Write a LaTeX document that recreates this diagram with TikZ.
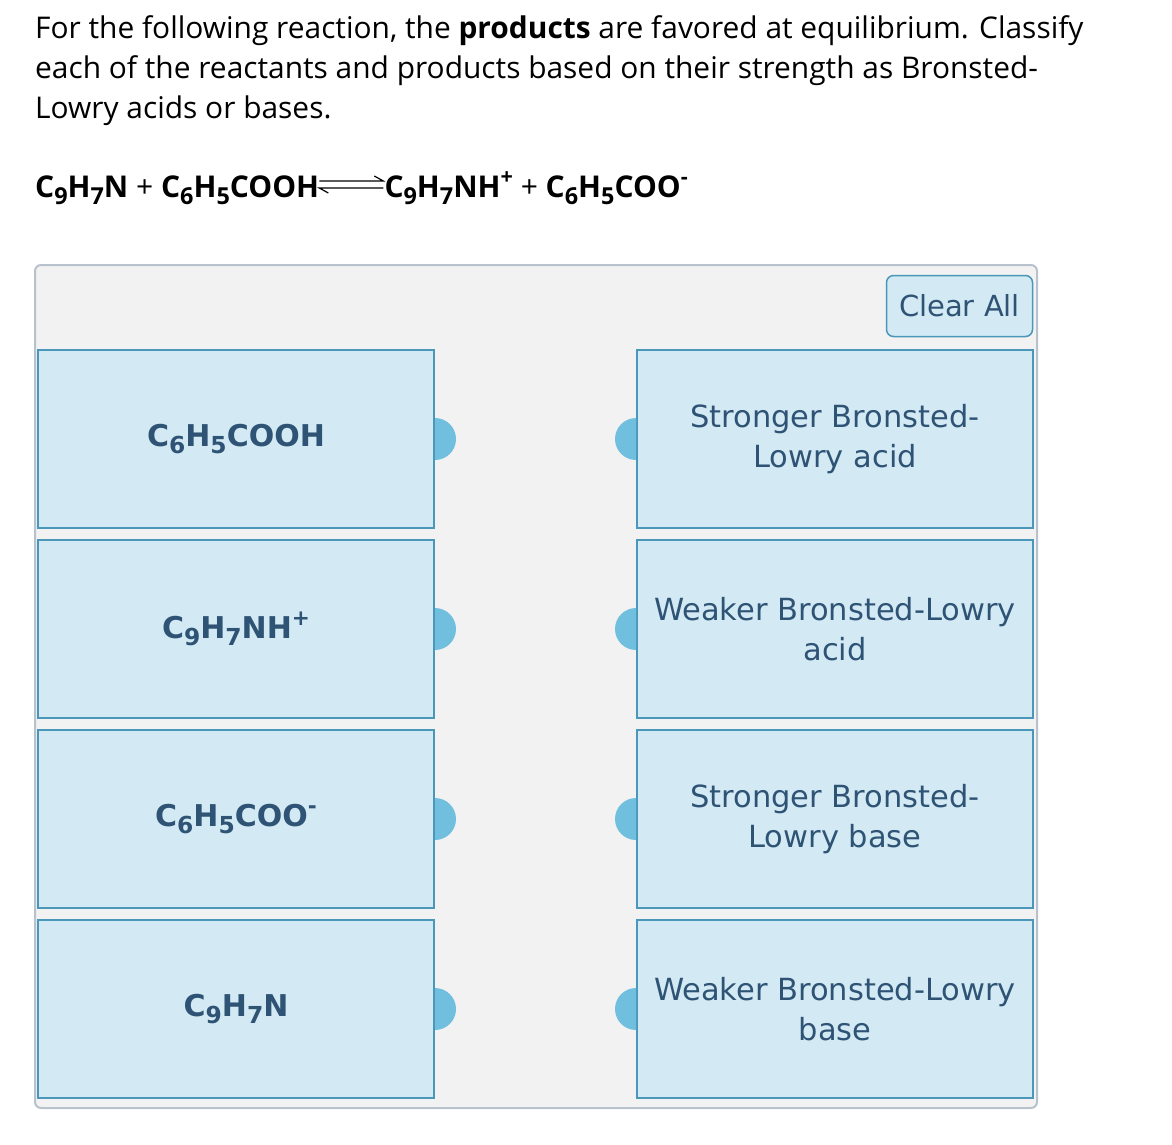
\documentclass[tikz,border=0pt]{standalone}
\usepackage{fontspec}
\setmainfont{Open Sans}
\newfontfamily\boxfont{DejaVu Sans}
\usetikzlibrary{positioning}
\definecolor{panelgray}{HTML}{F2F2F2}
\definecolor{panelline}{HTML}{B8C2CC}
\definecolor{boxblue}{HTML}{D3EAF5}
\definecolor{boxline}{HTML}{4A97BA}
\definecolor{tabblue}{HTML}{70BFDF}
\definecolor{labelblue}{HTML}{2E5374}
\newcommand{\chsub}[1]{\raisebox{-0.45ex}{\scalebox{0.78}{#1}}}
\newcommand{\chsup}[1]{\raisebox{0.75ex}{\scalebox{0.72}{#1}}}

\begin{document}
\begin{tikzpicture}[x=1pt, y=1pt]
    \useasboundingbox (0,0) rectangle (1172,-1144);
    \node[anchor=north west, align=left, inner sep=0pt, font=\fontsize{29.9}{40}\selectfont] (question) at (35,-15)
      {For the following reaction, the \textbf{products} are favored at equilibrium. Classify\\
       each of the reactants and products based on their strength as Bronsted-\\
       Lowry acids or bases.};

    \begin{scope}[every node/.style={anchor=base west, inner sep=0pt, font=\bfseries\fontsize{30}{32}\selectfont}]
      \node (eqleft) at (35,-197) {C\chsub{9}H\chsub{7}N {\mdseries +} C\chsub{6}H\chsub{5}COOH};
      \coordinate (arrL) at ([yshift=12pt]eqleft.base east);
      \coordinate (arrR) at ([xshift=64pt]arrL);
      \draw [line width=1.2pt] ([yshift=4pt]arrL) -- ([yshift=4pt]arrR) -- ++(-9,5);
      \draw [line width=1.2pt] ([yshift=-3pt]arrR) -- ([yshift=-3pt]arrL) -- ++(9,-5);
      \node (eqright) at ([xshift=1pt, yshift=-12pt]arrR) {C\chsub{9}H\chsub{7}NH\chsup{+} {\mdseries +} C\chsub{6}H\chsub{5}COO\chsup{-}};
    \end{scope}

    \draw [panelline, fill=panelgray, line width=2pt, rounded corners=6pt] (35,-265) rectangle (1037,-1108);

    \node [draw=boxline, fill=boxblue, rounded corners=7pt, line width=1.5pt, minimum width=146pt, minimum height=61pt,
      font=\boxfont\fontsize{29}{30}\selectfont, text=labelblue] (clearall) at (959.5,-306) {Clear All};

    \begin{scope}[every node/.style={draw=boxline, fill=boxblue, line width=2pt, minimum width=396pt,
        minimum height=178pt, text=labelblue, align=center}]
      \begin{scope}[font=\boxfont\bfseries\fontsize{30}{40}\selectfont]
        \node (cooh) at (236,-439) {C\chsub{6}H\chsub{5}COOH};
        \node (nhplus) [below=10pt of cooh] {C\chsub{9}H\chsub{7}NH\chsup{+}};
        \node (coo) [below=10pt of nhplus] {C\chsub{6}H\chsub{5}COO\chsup{-}};
        \node (cnine) [below=10pt of coo] {C\chsub{9}H\chsub{7}N};
      \end{scope}
      \begin{scope}[font=\boxfont\fontsize{30.5}{40}\selectfont]
        \node (sacid) [right=201pt of cooh] {Stronger Bronsted-\\Lowry acid};
        \node (wacid) [below=10pt of sacid] {Weaker Bronsted-Lowry\\acid};
        \node (sbase) [below=10pt of wacid] {Stronger Bronsted-\\Lowry base};
        \node (wbase) [below=10pt of sbase] {Weaker Bronsted-Lowry\\base};
      \end{scope}
    \end{scope}

    \foreach \b in {cooh,nhplus,coo,cnine}{
      \fill [tabblue] ([yshift=21pt]\b.east) arc [start angle=90, end angle=-90, radius=21pt] -- cycle;
    }
    \foreach \b in {sacid,wacid,sbase,wbase}{
      \fill [tabblue] ([yshift=21pt]\b.west) arc [start angle=90, end angle=270, radius=21pt] -- cycle;
    }
\end{tikzpicture}
\end{document}
